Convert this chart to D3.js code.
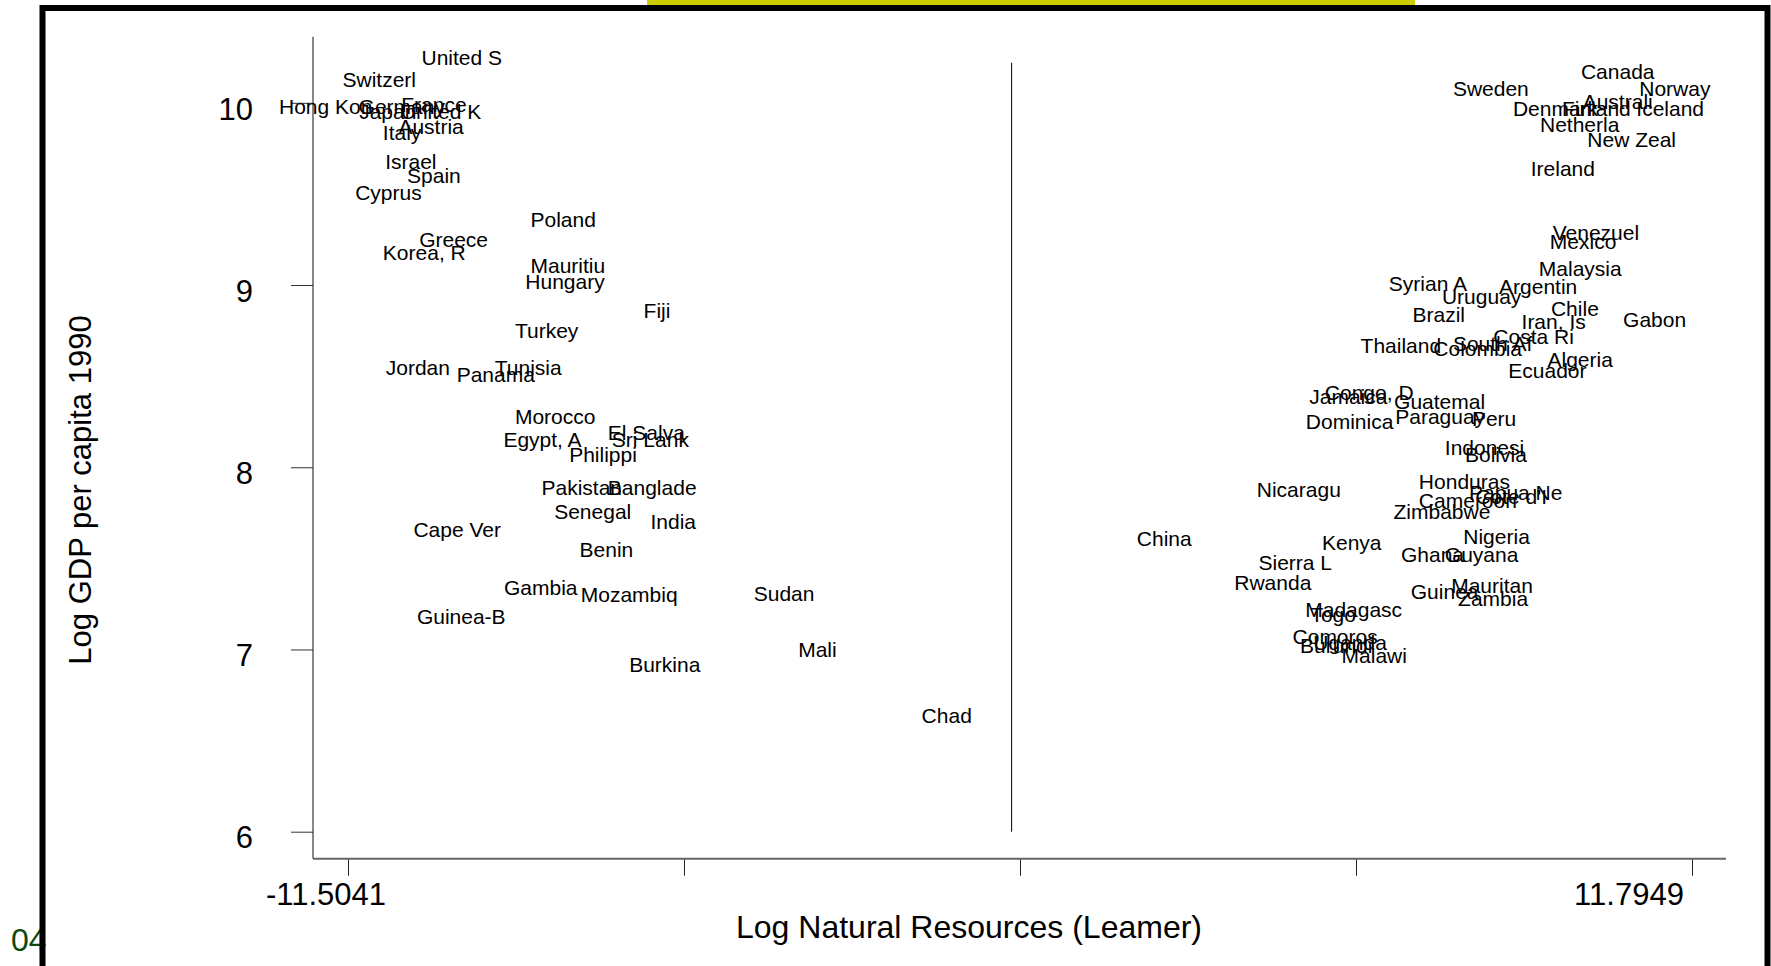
<!DOCTYPE html>
<html>
<head>
<meta charset="utf-8">
<script src="https://cdn.jsdelivr.net/npm/d3@7"></script>
<style>
  html, body { margin: 0; padding: 0; background: #fff; }
  svg { display: block; }
  text { font-family: "Liberation Sans", Arial, Helvetica, sans-serif; }
</style>
</head>
<body>
<script>
// Country labels (names truncated to 8 characters)
const countries = [
  "United S","Switzerl","Hong Kon","Germany","Japan","France","United K","Austria","Italy",
  "Israel","Spain","Cyprus","Poland","Greece","Korea, R","Mauritiu","Hungary","Fiji","Turkey",
  "Jordan","Panama","Tunisia","Morocco","Egypt, A","El Salva","Sri Lank","Philippi","Pakistan",
  "Banglade","Senegal","India","Cape Ver","Benin","Gambia","Mozambiq","Sudan","Guinea-B",
  "Burkina","Mali","Chad",
  "Canada","Sweden","Norway","Australi","Denmark","Finland","Iceland","Netherla","New Zeal",
  "Ireland","Venezuel","Mexico","Malaysia","Syrian A","Argentin","Uruguay","Brazil","Chile",
  "Iran, Is","Gabon","Costa Ri","Thailand","South Af","Colombia","Algeria","Ecuador",
  "Congo, D","Jamaica","Guatemal","Dominica","Paraguay","Peru","Indonesi","Bolivia",
  "Nicaragu","Honduras","Papua Ne","Cote d'I","Cameroon","Zimbabwe","China","Kenya","Nigeria",
  "Sierra L","Ghana","Guyana","Rwanda","Guinea","Mauritan","Zambia","Madagasc","Togo",
  "Comoros","Burundi","Uganda","Malawi"
];

// Log natural resources (Leamer)
const logResources = [
  -10.23,-11.60,-12.70,-11.32,-11.31,-10.58,-10.59,-10.63,-10.90,
  -10.86,-10.48,-11.38,-8.34,-10.27,-10.90,-8.34,-8.43,-6.38,-8.61,
  -10.85,-9.62,-8.96,-8.61,-8.81,-7.00,-6.93,-7.67,-8.15,
  -7.00,-7.93,-6.26,-10.37,-7.49,-8.80,-7.47,-4.47,-10.31,
  -6.63,-3.70,-1.56,
  9.87,7.65,10.88,9.90,8.69,9.54,10.83,9.16,9.98,
  9.00,9.38,9.33,9.14,6.54,8.45,7.46,6.95,9.35,
  8.84,10.60,8.35,6.05,7.65,7.31,9.29,8.61,
  5.43,5.16,6.63,5.10,6.65,7.98,7.51,7.86,
  4.25,7.06,7.93,8.04,7.06,6.62,2.17,5.38,7.83,
  4.28,6.75,7.51,3.86,6.92,7.62,7.74,5.09,5.18,
  4.87,5.00,5.23,5.72
];

// Log GDP per capita 1990
const logGdp = [
  10.25,10.13,9.98,9.98,9.95,9.99,9.95,9.87,9.84,
  9.68,9.60,9.51,9.36,9.25,9.18,9.11,9.02,8.86,8.75,
  8.55,8.51,8.55,8.28,8.15,8.19,8.15,8.07,7.89,
  7.89,7.76,7.70,7.66,7.55,7.34,7.30,7.31,7.18,
  6.92,7.00,6.64,
  10.17,10.08,10.08,10.01,9.97,9.97,9.97,9.88,9.80,
  9.64,9.29,9.24,9.09,9.01,8.99,8.94,8.84,8.87,
  8.80,8.81,8.72,8.67,8.68,8.65,8.59,8.53,
  8.41,8.39,8.36,8.25,8.28,8.27,8.11,8.07,
  7.88,7.92,7.86,7.84,7.82,7.76,7.61,7.59,7.62,
  7.48,7.52,7.52,7.37,7.32,7.35,7.28,7.22,7.19,
  7.07,7.02,7.04,6.97
];

// Axis ticks
const xTicks = [-11.5041, -5.6794, 0.1454, 5.9702, 11.7949];
const xTickLabels = ["-11.5041", "", "", "", "11.7949"];
const yTicks = [6, 7, 8, 9, 10];
const yTickLabels = ["6", "7", "8", "9", "10"];

// Vertical reference line at zero resources
const refLineX = 0;
const refLineY = [6, 10.22];

const W = 1771, H = 966;
const svg = d3.select("body").append("svg")
  .attr("width", W).attr("height", H);

const x = d3.scaleLinear().domain([xTicks[0], xTicks[xTicks.length - 1]]).range([348, 1692]);
const y = d3.scaleLinear().domain([6, 10]).range([831.7, 102.8]);

// page decoration: yellow strip and page number
svg.append("rect").attr("x", 647).attr("y", 0).attr("width", 768).attr("height", 5)
  .attr("fill", "#cccc00");
svg.append("text").attr("x", 11).attr("y", 951)
  .attr("font-size", 32).attr("fill", "#0b4a0b").text("04");

// black frame around the slide
svg.append("rect").attr("x", 42.5).attr("y", 8).attr("width", 1725).attr("height", 1000)
  .attr("fill", "none").attr("stroke", "#000").attr("stroke-width", 6);

const plotLeft = 313, plotBottom = 858.7;

// y axis
const yAxis = d3.axisLeft(y).tickValues(yTicks).tickSize(22).tickFormat("");
const gy = svg.append("g").attr("transform", `translate(${plotLeft},0)`).call(yAxis);
gy.select(".domain").remove();
gy.selectAll(".tick line").attr("stroke", "#333").attr("stroke-width", 1);
svg.append("line")
  .attr("x1", plotLeft).attr("x2", plotLeft)
  .attr("y1", y(10) - 66).attr("y2", plotBottom)
  .attr("stroke", "#111").attr("stroke-width", 1);
svg.append("g").selectAll("text").data(yTicks).join("text")
  .attr("x", 253).attr("y", d => y(d)).attr("dy", 16.7)
  .attr("text-anchor", "end").attr("font-size", 31).attr("fill", "#000")
  .text((d, i) => yTickLabels[i]);

// x axis
const xAxis = d3.axisBottom(x).tickValues(xTicks).tickSize(17).tickFormat("");
const gx = svg.append("g").attr("transform", `translate(0,${plotBottom})`).call(xAxis);
gx.select(".domain").remove();
gx.selectAll(".tick line").attr("stroke", "#222").attr("stroke-width", 1);
svg.append("line")
  .attr("x1", plotLeft).attr("x2", 1726)
  .attr("y1", plotBottom).attr("y2", plotBottom)
  .attr("stroke", "#666").attr("stroke-width", 2);
const xLabelShift = [-22, 0, 0, 0, -63];
svg.append("g").selectAll("text").data(xTicks).join("text")
  .attr("x", (d, i) => x(d) + xLabelShift[i]).attr("y", 905)
  .attr("text-anchor", "middle").attr("font-size", 31).attr("fill", "#000")
  .text((d, i) => xTickLabels[i]);

// axis titles
svg.append("text").attr("x", 969).attr("y", 938)
  .attr("text-anchor", "middle").attr("font-size", 32).attr("fill", "#000")
  .text("Log Natural Resources (Leamer)");
svg.append("text").attr("transform", "translate(91,490) rotate(-90)")
  .attr("text-anchor", "middle").attr("font-size", 31).attr("fill", "#000")
  .text("Log GDP per capita 1990");

// reference line
svg.append("line")
  .attr("x1", x(refLineX)).attr("x2", x(refLineX))
  .attr("y1", y(refLineY[0])).attr("y2", y(refLineY[1]))
  .attr("stroke", "#000").attr("stroke-width", 1);

// country labels placed at each observation
const data = countries.map((c, i) => ({ name: c, xv: logResources[i], yv: logGdp[i] }));
svg.append("g").selectAll("text").data(data).join("text")
  .attr("x", d => x(d.xv)).attr("y", d => y(d.yv)).attr("dy", "0.36em")
  .attr("font-size", 21).attr("fill", "#000")
  .text(d => d.name);
</script>
</body>
</html>
